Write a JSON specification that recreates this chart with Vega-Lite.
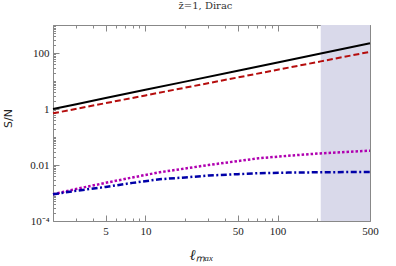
{
  "$schema": "https://vega.github.io/schema/vega-lite/v6.json",
  "width": 317,
  "height": 196,
  "autosize": "none",
  "padding": {"left": 53, "top": 25, "right": 26, "bottom": 45},
  "background": "white",
  "title": {"text": "z̄=1, Dirac", "font": "DejaVu Serif", "fontSize": 10, "fontWeight": "normal", "color": "#333", "offset": 8, "dx": -6},
  "config": {
    "view": {"stroke": null},
    "axis": {
      "domainColor": "#888", "tickColor": "#888", "grid": false,
      "labelFont": "Liberation Serif", "labelFontSize": 11, "labelColor": "#222",
      "titleFont": "Liberation Serif", "titleFontSize": 12, "titleColor": "#222", "titleFontWeight": "normal"
    }
  },
  "datasets": {
    "shade": [{"x": 212, "x2": 500, "y": 0.0001, "y2": 1000}],
    "curves": [
      {"series": "total", "l": 2, "sn": 1.0},
      {"series": "total", "l": 3, "sn": 1.49},
      {"series": "total", "l": 5, "sn": 2.45},
      {"series": "total", "l": 10, "sn": 4.83},
      {"series": "total", "l": 20, "sn": 9.5},
      {"series": "total", "l": 50, "sn": 23.3},
      {"series": "total", "l": 100, "sn": 45.8},
      {"series": "total", "l": 212, "sn": 96},
      {"series": "total", "l": 500, "sn": 222},
      {"series": "red", "l": 2, "sn": 0.70},
      {"series": "red", "l": 5, "sn": 1.62},
      {"series": "red", "l": 10, "sn": 3.06},
      {"series": "red", "l": 50, "sn": 13.4},
      {"series": "red", "l": 100, "sn": 25.2},
      {"series": "red", "l": 212, "sn": 50.2},
      {"series": "red", "l": 500, "sn": 110},
      {"series": "magenta", "l": 2, "sn": 0.0009},
      {"series": "magenta", "l": 3, "sn": 0.0014},
      {"series": "magenta", "l": 5, "sn": 0.0023},
      {"series": "magenta", "l": 8, "sn": 0.0036},
      {"series": "magenta", "l": 12.8, "sn": 0.0055},
      {"series": "magenta", "l": 20, "sn": 0.0075},
      {"series": "magenta", "l": 30, "sn": 0.010},
      {"series": "magenta", "l": 50, "sn": 0.0138},
      {"series": "magenta", "l": 72, "sn": 0.0174},
      {"series": "magenta", "l": 120, "sn": 0.0214},
      {"series": "magenta", "l": 210, "sn": 0.026},
      {"series": "magenta", "l": 350, "sn": 0.0297},
      {"series": "magenta", "l": 500, "sn": 0.0324},
      {"series": "blue", "l": 2, "sn": 0.0009},
      {"series": "blue", "l": 3, "sn": 0.0012},
      {"series": "blue", "l": 5, "sn": 0.00165},
      {"series": "blue", "l": 8, "sn": 0.0023},
      {"series": "blue", "l": 12.8, "sn": 0.0031},
      {"series": "blue", "l": 20, "sn": 0.0036},
      {"series": "blue", "l": 30, "sn": 0.0042},
      {"series": "blue", "l": 50, "sn": 0.0047},
      {"series": "blue", "l": 72, "sn": 0.0051},
      {"series": "blue", "l": 120, "sn": 0.00535},
      {"series": "blue", "l": 210, "sn": 0.0055},
      {"series": "blue", "l": 350, "sn": 0.0056},
      {"series": "blue", "l": 500, "sn": 0.0056}
    ]
  },
  "resolve": {"axis": {"x": "independent", "y": "independent"}},
  "layer": [
    {
      "data": {"name": "shade"},
      "mark": {"type": "rect", "color": "#d9d9ea"},
      "encoding": {
        "x": {"field": "x", "type": "quantitative", "scale": {"type": "log", "domain": [2, 500], "nice": false},
          "axis": {"orient": "bottom", "title": "ℓₘₐₓ", "titleX": 148, "titleY": 26, "titleFontStyle": "italic", "titleFontSize": 15,
            "values": [2,3,4,5,6,7,8,9,10,20,30,40,50,60,70,80,90,100,200,300,400,500],
            "labelExpr": "indexof([5,10,50,100,500], datum.value) >= 0 ? format(datum.value, 'd') : ''",
            "tickSize": {"condition": {"test": "indexof([5,10,50,100,500], datum.value) >= 0", "value": -6}, "value": -3},
            "labelPadding": 10, "labelFlush": false, "labelOverlap": false}},
        "x2": {"field": "x2"},
        "y": {"field": "y", "type": "quantitative", "scale": {"type": "log", "domain": [0.0001, 1000], "nice": false},
          "axis": {"orient": "left", "title": "S/N", "titleX": -40, "titleY": 93, "titleFont": "DejaVu Sans", "titleFontSize": 11,
            "values": [0.0001,0.0002,0.0003,0.0004,0.0005,0.0006,0.0007,0.0008,0.0009,0.001,0.002,0.003,0.004,0.005,0.006,0.007,0.008,0.009,0.01,0.02,0.03,0.04,0.05,0.06,0.07,0.08,0.09,0.1,0.2,0.3,0.4,0.5,0.6,0.7,0.8,0.9,1,2,3,4,5,6,7,8,9,10,20,30,40,50,60,70,80,90,100,200,300,400,500,600,700,800,900,1000],
            "labelExpr": "datum.value == 100 ? '100' : datum.value == 1 ? '1' : abs(datum.value - 0.01) < 1e-9 ? '0.01' : abs(datum.value - 0.0001) < 1e-12 ? '10⁻⁴' : ''",
            "tickSize": {"condition": {"test": "datum.value == 100 || datum.value == 1 || abs(datum.value - 0.01) < 1e-9 || abs(datum.value - 0.0001) < 1e-12", "value": -6}, "value": -2.5},
            "labelPadding": 10, "labelFlush": false, "labelOverlap": false}},
        "y2": {"field": "y2"}
      }
    },
    {
      "data": {"name": "curves"},
      "transform": [{"filter": "datum.series == 'total'"}],
      "mark": {"type": "line", "color": "black", "strokeWidth": 2},
      "encoding": {
        "x": {"field": "l", "type": "quantitative", "scale": {"type": "log", "domain": [2, 500], "nice": false},
          "axis": {"orient": "top", "title": null, "labels": false,
            "values": [2,3,4,5,6,7,8,9,10,20,30,40,50,60,70,80,90,100,200,300,400,500],
            "tickSize": {"condition": {"test": "indexof([5,10,50,100,500], datum.value) >= 0", "value": -6}, "value": -3}}},
        "y": {"field": "sn", "type": "quantitative", "scale": {"type": "log", "domain": [0.0001, 1000], "nice": false},
          "axis": {"orient": "right", "title": null, "labels": false,
            "values": [0.0001,0.0002,0.0003,0.0004,0.0005,0.0006,0.0007,0.0008,0.0009,0.001,0.002,0.003,0.004,0.005,0.006,0.007,0.008,0.009,0.01,0.02,0.03,0.04,0.05,0.06,0.07,0.08,0.09,0.1,0.2,0.3,0.4,0.5,0.6,0.7,0.8,0.9,1,2,3,4,5,6,7,8,9,10,20,30,40,50,60,70,80,90,100,200,300,400,500,600,700,800,900,1000],
            "tickSize": {"condition": {"test": "datum.value == 100 || datum.value == 1 || abs(datum.value - 0.01) < 1e-9 || abs(datum.value - 0.0001) < 1e-12", "value": -6}, "value": -2.5}}}
      }
    },
    {
      "data": {"name": "curves"},
      "transform": [{"filter": "datum.series == 'red'"}],
      "mark": {"type": "line", "color": "#b50d0d", "strokeWidth": 2, "strokeDash": [6, 3]},
      "encoding": {
        "x": {"field": "l", "type": "quantitative", "scale": {"type": "log", "domain": [2, 500], "nice": false}, "axis": null},
        "y": {"field": "sn", "type": "quantitative", "scale": {"type": "log", "domain": [0.0001, 1000], "nice": false}, "axis": null}
      }
    },
    {
      "data": {"name": "curves"},
      "transform": [{"filter": "datum.series == 'magenta'"}],
      "mark": {"type": "line", "color": "#b000b0", "strokeWidth": 2.5, "strokeDash": [2.5, 2]},
      "encoding": {
        "x": {"field": "l", "type": "quantitative", "scale": {"type": "log", "domain": [2, 500], "nice": false}, "axis": null},
        "y": {"field": "sn", "type": "quantitative", "scale": {"type": "log", "domain": [0.0001, 1000], "nice": false}, "axis": null}
      }
    },
    {
      "data": {"name": "curves"},
      "transform": [{"filter": "datum.series == 'blue'"}],
      "mark": {"type": "line", "color": "#0000a8", "strokeWidth": 2.5, "strokeDash": [6, 2.5, 2, 2.5]},
      "encoding": {
        "x": {"field": "l", "type": "quantitative", "scale": {"type": "log", "domain": [2, 500], "nice": false}, "axis": null},
        "y": {"field": "sn", "type": "quantitative", "scale": {"type": "log", "domain": [0.0001, 1000], "nice": false}, "axis": null}
      }
    }
  ]
}
